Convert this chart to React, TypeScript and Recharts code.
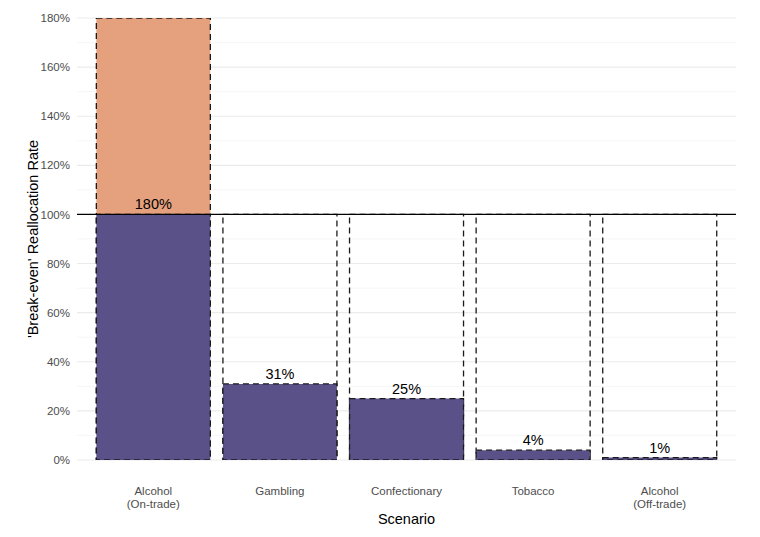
import { BarChart, Bar, XAxis, YAxis, CartesianGrid, ReferenceLine, LabelList, Label } from 'recharts';

const categories = ['Alcohol\n(On-trade)', 'Gambling', 'Confectionary', 'Tobacco', 'Alcohol\n(Off-trade)'];
const rates = [180, 31, 25, 4, 1];
const breakEven = 100;
const majorTicks = [0, 20, 40, 60, 80, 100, 120, 140, 160, 180];
const minorTicks = [10, 30, 50, 70, 90, 110, 130, 150, 170];

const PURPLE = '#5b5189';
const ORANGE = '#e5a07e';
const FONT = '"Liberation Sans", Arial, Helvetica, sans-serif';

const data = categories.map((name, i) => ({
  name,
  value: rates[i],
  base: Math.min(rates[i], breakEven),
  over: rates[i] > breakEven ? rates[i] - breakEven : null,
  box: breakEven,
}));

const CategoryTick = (props: any) => {
  const { x, y, payload } = props;
  const lines = String(payload.value).split('\n');
  return (
    <g>
      {lines.map((l, i) => (
        <text key={i} x={x} y={y + i * 13} dy="0.71em" textAnchor="middle" fontSize={11.5} fill="#4d4d4d" fontFamily={FONT}>
          {l}
        </text>
      ))}
    </g>
  );
};

const dash = { stroke: '#1a1a1a', strokeWidth: 1.3, strokeDasharray: '6 4' };

export default function App() {
  return (
    <div style={{ position: 'absolute', left: 0, top: 0, background: '#fff' }}>
      <BarChart
        width={760}
        height={537}
        data={data}
        margin={{ top: 18, right: 24, left: 0, bottom: 0 }}
        barCategoryGap="5%"
      >
        <CartesianGrid vertical={false} horizontalValues={minorTicks} stroke="#f2f2f2" strokeWidth={0.7} />
        <CartesianGrid vertical={false} horizontalValues={majorTicks} stroke="#ebebeb" strokeWidth={1.1} />
        <XAxis
          dataKey="name"
          axisLine={false}
          tickLine={false}
          tickSize={0}
          tickMargin={27}
          height={77}
          padding={{ left: 13, right: 13 }}
          tick={<CategoryTick />}
          interval={0}
        >
          <Label
            content={(p: any) => {
              const vb = p.viewBox;
              return (
                <text x={vb.x + vb.width / 2} y={519} dy="0.35em" textAnchor="middle" fontSize={14.5} fill="#000" fontFamily={FONT}>
                  Scenario
                </text>
              );
            }}
          />
        </XAxis>
        <XAxis xAxisId="box" dataKey="name" hide padding={{ left: 13, right: 13 }} />
        <YAxis
          domain={[0, 180]}
          ticks={majorTicks}
          allowDataOverflow
          axisLine={false}
          tickLine={false}
          tickSize={0}
          tickMargin={7}
          width={77}
          tick={{ fontSize: 11.5, fill: '#4d4d4d', fontFamily: FONT }}
          tickFormatter={(v) => `${v}%`}
        >
          <Label
            content={(p: any) => {
              const vb = p.viewBox;
              const cy = vb.y + vb.height / 2;
              return (
                <text x={33} y={cy} dy="0.35em" textAnchor="middle" fontSize={14.5} fill="#000" fontFamily={FONT} transform={`rotate(-90 33 ${cy})`}>
                  'Break-even' Reallocation Rate
                </text>
              );
            }}
          />
        </YAxis>
        <Bar xAxisId="box" dataKey="box" fill="none" {...dash} isAnimationActive={false} />
        <Bar dataKey="base" stackId="s" fill={PURPLE} {...dash} isAnimationActive={false}>
          <LabelList
            dataKey="value"
            position="top"
            offset={5}
            formatter={(v: any) => `${v}%`}
            style={{ fontSize: 14.5, fill: '#000', fontFamily: FONT }}
          />
        </Bar>
        <Bar dataKey="over" stackId="s" fill={ORANGE} {...dash} isAnimationActive={false} />
        <ReferenceLine y={breakEven} stroke="#000" strokeWidth={1.3} />
      </BarChart>
    </div>
  );
}
